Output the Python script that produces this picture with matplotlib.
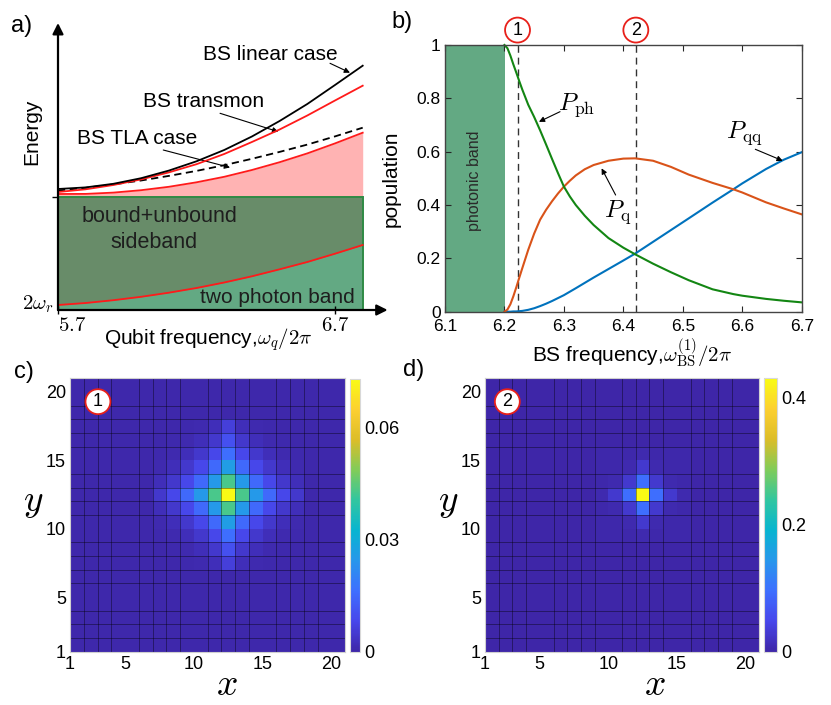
import numpy as np
import matplotlib
matplotlib.use("Agg")
import matplotlib.pyplot as plt
from matplotlib.colors import LinearSegmentedColormap
from matplotlib.patches import Rectangle

plt.rcParams['font.family'] = ['Liberation Sans', 'DejaVu Sans']
plt.rcParams['mathtext.fontset'] = 'cm'

# ---------------- data: panel a (schematic energies) ----------------
qubit_freq   = [5.7, 5.8, 5.9, 6.0, 6.1, 6.2, 6.3, 6.4, 6.5, 6.6, 6.7, 6.8]
bs_linear    = [1.210, 1.226, 1.262, 1.318, 1.394, 1.487, 1.600, 1.735, 1.890, 2.060, 2.250, 2.443]
bs_transmon  = [1.180, 1.207, 1.250, 1.306, 1.376, 1.458, 1.560, 1.680, 1.805, 1.945, 2.095, 2.243]
bs_tla       = [1.195, 1.222, 1.256, 1.295, 1.341, 1.391, 1.448, 1.512, 1.581, 1.654, 1.736, 1.823]
continuum_top = [1.160, 1.161, 1.174, 1.198, 1.232, 1.277, 1.332, 1.400, 1.478, 1.566, 1.666, 1.773]
twophoton_top = [0.050, 0.070, 0.098, 0.132, 0.173, 0.220, 0.275, 0.337, 0.407, 0.480, 0.563, 0.650]
sideband_top = 1.13
a_ticks = [5.7, 6.7]

# ---------------- data: panel b (populations) ----------------
bs_freq = [6.200, 6.205, 6.210, 6.215, 6.220, 6.225, 6.230, 6.240, 6.250, 6.260,
           6.270, 6.280, 6.290, 6.300, 6.310, 6.320, 6.335, 6.350, 6.375, 6.400,
           6.420, 6.450, 6.480, 6.510, 6.550, 6.585, 6.600, 6.640, 6.670, 6.700]
P_ph = [1.000, 0.988, 0.960, 0.927, 0.896, 0.864, 0.833, 0.776, 0.730, 0.680,
        0.627, 0.573, 0.520, 0.469, 0.432, 0.400, 0.360, 0.325, 0.276, 0.240,
        0.215, 0.180, 0.148, 0.118, 0.084, 0.066, 0.060, 0.048, 0.041, 0.035]
P_q = [0.000, 0.008, 0.028, 0.058, 0.092, 0.128, 0.163, 0.232, 0.293, 0.345,
       0.382, 0.414, 0.443, 0.469, 0.491, 0.511, 0.534, 0.550, 0.566, 0.574,
       0.575, 0.566, 0.543, 0.514, 0.483, 0.459, 0.447, 0.410, 0.387, 0.365]
P_qq = [0.000, 0.000, 0.000, 0.001, 0.001, 0.002, 0.003, 0.007, 0.013, 0.021,
        0.030, 0.040, 0.051, 0.062, 0.075, 0.088, 0.108, 0.128, 0.160, 0.192,
        0.218, 0.262, 0.306, 0.350, 0.409, 0.459, 0.481, 0.535, 0.570, 0.598]
photonic_band = [6.1, 6.2007]
marked_freqs = [6.222, 6.421]
marked_labels = ['1', '2']

# ---------------- data: panels c, d (20x20 site populations) ----------------
n_sites = 20
peak_col, peak_row = 11, 11        # zero-based cell of maximum
# panel c: 11x11 patch around the peak (units 1e-3), top row first
patch_c = [
    [0.5, 0.5, 0.6, 1.0, 2.0, 6.0, 2.0, 1.0, 0.6, 0.5, 0.5],
    [0.5, 0.6, 1.0, 2.0, 4.5, 10., 4.5, 2.0, 1.0, 0.6, 0.5],
    [0.6, 1.0, 2.0, 4.5, 8.0, 16., 8.0, 4.5, 2.0, 1.0, 0.6],
    [1.0, 2.0, 4.5, 8.0, 15., 26., 15., 8.0, 4.5, 2.0, 1.0],
    [2.0, 4.5, 8.0, 15., 25., 43., 25., 15., 8.0, 4.5, 2.0],
    [4.5, 8.0, 15., 25., 43., 73., 43., 25., 15., 8.0, 4.5],
    [2.0, 4.5, 8.0, 15., 25., 43., 25., 15., 8.0, 4.5, 2.0],
    [1.0, 2.0, 4.5, 8.0, 15., 26., 15., 8.0, 4.5, 2.0, 1.0],
    [0.6, 1.0, 2.0, 4.5, 8.0, 16., 8.0, 4.5, 2.0, 1.0, 0.6],
    [0.5, 0.6, 1.0, 2.0, 4.5, 10., 4.5, 2.0, 1.0, 0.6, 0.5],
    [0.5, 0.5, 0.6, 1.0, 2.0, 6.0, 2.0, 1.0, 0.6, 0.5, 0.5],
]
background_c = 0.4
vmax_c = 0.073
cbar_ticks_c = [0, 0.03, 0.06]
cbar_labels_c = ['0', '0.03', '0.06']
# panel d: 7x7 patch around the peak (units 1e-3), top row first
patch_d = [
    [2.0, 2.0, 3.0, 6.0, 3.0, 2.0, 2.0],
    [2.0, 3.0, 6.0, 28., 6.0, 3.0, 2.0],
    [3.0, 6.0, 28., 95., 28., 6.0, 3.0],
    [6.0, 28., 95., 430., 95., 28., 6.0],
    [3.0, 6.0, 28., 95., 28., 6.0, 3.0],
    [2.0, 3.0, 6.0, 28., 6.0, 3.0, 2.0],
    [2.0, 2.0, 3.0, 6.0, 3.0, 2.0, 2.0],
]
background_d = 1.5
vmax_d = 0.43
cbar_ticks_d = [0, 0.2, 0.4]
cbar_labels_d = ['0', '0.2', '0.4']
site_ticks = [1, 5, 10, 15, 20]

# ---------------- styles ----------------
parula_anchors = [
    (0.2422, 0.1504, 0.6603), (0.2803, 0.2782, 0.9221), (0.2440, 0.4358, 0.9988),
    (0.1540, 0.5902, 0.9218), (0.0297, 0.7082, 0.8163), (0.1938, 0.7758, 0.6251),
    (0.5044, 0.7993, 0.3480), (0.8634, 0.7406, 0.1596), (0.9892, 0.8136, 0.1885),
    (0.9769, 0.9839, 0.0805)]
parula = LinearSegmentedColormap.from_list('parula', parula_anchors)

LIGHT_GREEN = '#63a983'
DARK_GREEN = '#688c69'
PINK = '#ffb3b3'
RED = '#ff1a1a'
C_PH, C_Q, C_QQ = '#138613', '#d95319', '#0072bd'

W, H = 831, 705
fig = plt.figure(figsize=(W / 100, H / 100), dpi=100)


def px_axes(l, t, r, b):
    return fig.add_axes([l / W, 1 - b / H, (r - l) / W, (b - t) / H])


# ================= panel a =================
ax = px_axes(58, 15, 395, 310)
ax.set_xlim(5.7, 5.7 + 337 / 277)
ax.set_ylim(0, 2.95)
for s in ax.spines.values():
    s.set_visible(False)
xq = np.array(qubit_freq)
ax.fill_between(xq, 0, sideband_top, color=LIGHT_GREEN, lw=0)
ax.fill_between(xq, twophoton_top, sideband_top, color=DARK_GREEN, lw=0)
ax.fill_between(xq, sideband_top, continuum_top, color=PINK, lw=0)
ax.add_patch(Rectangle((xq[0], 0), xq[-1] - xq[0], sideband_top, fill=False,
                       ec='#2f8a45', lw=1.4, zorder=3))
ax.plot(xq, twophoton_top, color=RED, lw=1.3, zorder=4)
ax.plot(xq, continuum_top, color=RED, lw=1.3, zorder=4)
ax.plot([xq[0], xq[0]], [twophoton_top[0], continuum_top[0]], color=RED, lw=1.3, zorder=4)
ax.plot(xq, bs_tla, color='k', lw=1.3, ls=(0, (4, 2.5)), zorder=4)
ax.plot(xq, bs_transmon, color=RED, lw=1.3, zorder=4)
ax.plot(xq, bs_linear, color='k', lw=1.3, zorder=4)

arrow_kw = dict(arrowstyle='-|>', lw=1.6, color='k', mutation_scale=16, shrinkA=0, shrinkB=0)
ax.annotate('', xy=(5.7, 2.87), xytext=(5.7, 0), arrowprops=arrow_kw, annotation_clip=False, zorder=6)
ax.annotate('', xy=(6.89, 0), xytext=(5.7, 0), arrowprops=arrow_kw, annotation_clip=False, zorder=6)

ax.set_xticks(a_ticks)
ax.set_xticklabels(['$%.1f$' % t for t in a_ticks], fontsize=15)
ax.get_xticklabels()[0].set_horizontalalignment('left')
ax.get_xticklabels()[0].set_x(a_ticks[0] - 0.028)
ax.tick_params(axis='x', direction='inout', length=6, width=1, pad=1)
ax.set_yticks([sideband_top])
ax.set_yticklabels([''])
ax.tick_params(axis='y', direction='out', length=4, width=1)

small_arrow = dict(arrowstyle='-|>', lw=0.8, color='k', mutation_scale=8, shrinkA=0, shrinkB=0)
ax.text(6.465, 2.557, 'BS linear case', fontsize=15, ha='center', va='center')
ax.annotate('', xy=(6.754, 2.373), xytext=(6.682, 2.467), arrowprops=small_arrow)
ax.text(6.2246, 2.083, 'BS transmon', fontsize=15, ha='center', va='center')
ax.annotate('', xy=(6.495, 1.783), xytext=(6.285, 1.967), arrowprops=small_arrow)
ax.text(5.986, 1.717, 'BS TLA case', fontsize=15, ha='center', va='center')
ax.annotate('', xy=(6.321, 1.425), xytext=(6.080, 1.600), arrowprops=small_arrow)
ax.text(6.066, 0.94, 'bound+unbound', fontsize=15.5, ha='center', va='center', color='#1e1e1e', zorder=5)
ax.text(6.048, 0.673, 'sideband', fontsize=15.5, ha='center', va='center', color='#1e1e1e', zorder=5)
ax.text(6.492, 0.123, 'two photon band', fontsize=15, ha='center', va='center', color='#1e1e1e', zorder=5)
ax.text(5.683, 0.06, r'$2\omega_r$', fontsize=15, ha='right', va='center')
ax.text(5.605, 1.783, 'Energy', fontsize=15, rotation=90, ha='center', va='center')
ax.text(6.2415, -0.30, r'Qubit frequency,$\omega_q/2\pi$', fontsize=15, ha='center', va='center')

# ================= panel b =================
bx = px_axes(445, 45, 801.7, 311.7)
bx.set_xlim(6.1, 6.7)
bx.set_ylim(0, 1)
bx.axvspan(photonic_band[0], photonic_band[1], color=LIGHT_GREEN, lw=0)
bx.text(np.mean(photonic_band), 0.49, 'photonic band', rotation=90, fontsize=11.5,
        ha='center', va='center', color='#2a2a2a')
for f in marked_freqs:
    bx.axvline(f, color='#333333', lw=1.0, ls=(0, (5, 3.5)))
bx.plot(bs_freq, P_qq, color=C_QQ, lw=1.5, clip_on=False)
bx.plot(bs_freq, P_q, color=C_Q, lw=1.5, clip_on=False)
bx.plot(bs_freq, P_ph, color=C_PH, lw=1.5, clip_on=False)
xt = [6.1, 6.2, 6.3, 6.4, 6.5, 6.6, 6.7]
bx.set_xticks(xt)
bx.set_xticklabels(['%.1f' % t for t in xt], fontsize=12.5)
yt = [0, 0.2, 0.4, 0.6, 0.8, 1]
bx.set_yticks(yt)
bx.set_yticklabels(['0', '0.2', '0.4', '0.6', '0.8', '1'], fontsize=12.5)
bx.tick_params(direction='in', top=True, right=True, length=4.5, width=0.8, color='#262626')
bx.tick_params(axis='x', pad=5.2)
bx.tick_params(axis='y', pad=3)
for s in bx.spines.values():
    s.set_color('#444444')
    s.set_linewidth(1.0)
bx.set_ylabel('population', fontsize=15)
bx.yaxis.set_label_coords(-0.125, 0.5)
bx.text(0.524, -0.156, r'BS frequency,$\omega^{(1)}_{\rm BS}/2\pi$', fontsize=15,
        ha='center', va='center', transform=bx.transAxes)
circ = dict(boxstyle='circle,pad=0.22', fc='white', ec='#e8201a', lw=1.3)
for f, lab in zip(marked_freqs, marked_labels):
    bx.text(f, 1.056, lab, fontsize=13, ha='center', va='center', bbox=circ, clip_on=False)
bx.text(6.322, 0.775, r'$P_{\rm ph}$', fontsize=18, ha='center', va='center')
bx.annotate('', xy=(6.258, 0.712), xytext=(6.2935, 0.75), arrowprops=small_arrow)
bx.text(6.390, 0.375, r'$P_{\rm q}$', fontsize=18, ha='center', va='center')
bx.annotate('', xy=(6.3634, 0.5375), xytext=(6.387, 0.4375), arrowprops=small_arrow)
bx.text(6.6034, 0.669, r'$P_{\rm qq}$', fontsize=18, ha='center', va='center')
bx.annotate('', xy=(6.668, 0.566), xytext=(6.622, 0.609), arrowprops=small_arrow)


# ================= panels c, d =================
def build_grid(patch, background):
    p = np.flipud(np.array(patch, dtype=float)) * 1e-3
    r = p.shape[0] // 2
    grid = np.full((n_sites, n_sites), background * 1e-3)
    grid[peak_row - r:peak_row + r + 1, peak_col - r:peak_col + r + 1] = p
    return grid


def heat_panel(rect, crect, grid, vmax, cticks, clabels, mark, mark_xy, ylab_x, xlab_x):
    hx = px_axes(*rect)
    edges = np.arange(1, n_sites + 2)
    mesh = hx.pcolormesh(edges, edges, grid, cmap=parula, vmin=0, vmax=vmax)
    hx.set_xlim(1, n_sites + 1)
    hx.set_ylim(1, n_sites + 1)
    hx.set_xticks(site_ticks)
    hx.set_yticks(site_ticks)
    hx.set_xticklabels([str(t) for t in site_ticks], fontsize=13)
    hx.set_yticklabels([str(t) for t in site_ticks], fontsize=13)
    hx.set_xticks(edges, minor=True)
    hx.set_yticks(edges, minor=True)
    hx.grid(which='minor', color='k', lw=0.6, alpha=0.45)
    hx.tick_params(which='both', length=0, pad=3)
    for s in hx.spines.values():
        s.set_color('#d0d0d0')
    hx.text(ylab_x, 0.549, '$y$', fontsize=27, ha='center', va='center', transform=hx.transAxes)
    hx.text(xlab_x, -0.122, '$x$', fontsize=27, ha='center', va='center', transform=hx.transAxes)
    hx.text(mark_xy[0], mark_xy[1], mark, fontsize=13, ha='center', va='center', bbox=circ)
    cx = px_axes(*crect)
    cb = fig.colorbar(mesh, cax=cx, ticks=cticks)
    cb.ax.set_yticklabels(clabels, fontsize=13)
    cb.ax.tick_params(length=0, pad=3)
    cb.outline.set_edgecolor('#d8d8d8')
    return hx


heat_panel((70, 378.3, 345.3, 651.7), (350, 379, 360, 651.7),
           build_grid(patch_c, background_c), vmax_c, cbar_ticks_c, cbar_labels_c,
           marked_labels[0], (3.03, 19.29), -0.134, 0.570)
heat_panel((485, 378.3, 759, 651.7), (764, 378.3, 777.3, 651.7),
           build_grid(patch_d, background_d), vmax_d, cbar_ticks_d, cbar_labels_d,
           marked_labels[1], (2.63, 19.29), -0.134, 0.62)

# panel labels
for lab, (x, y) in zip(['a)', 'b)', 'c)', 'd)'],
                       [(22, 26), (402, 22), (24, 372), (414, 370)]):
    fig.text(x / W, 1 - y / H, lab, fontsize=17, ha='center', va='center')

fig.savefig('out.png', dpi=100)
